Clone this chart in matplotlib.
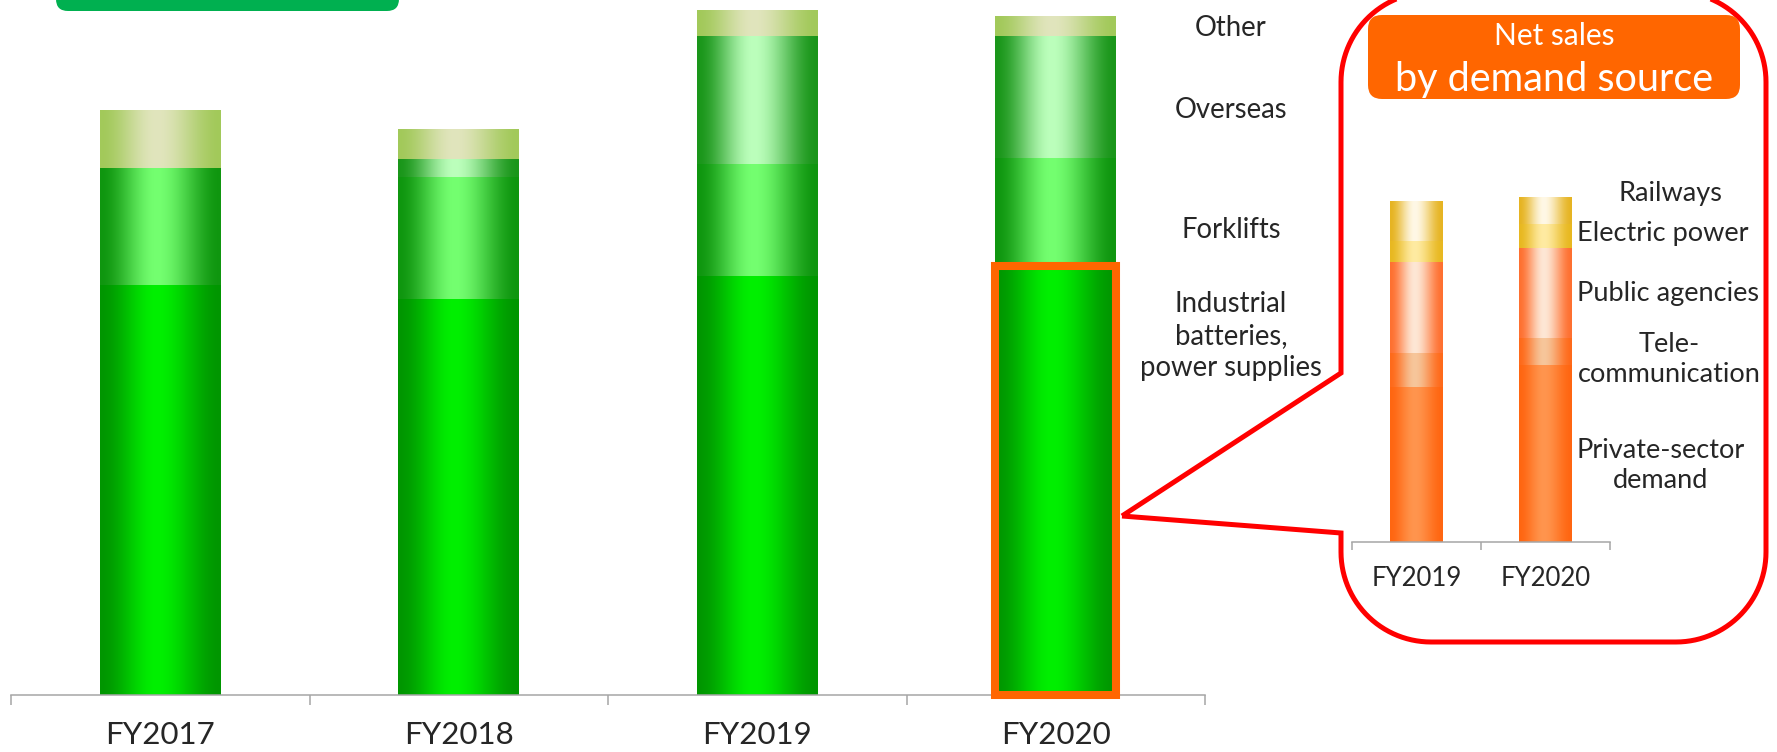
import matplotlib
matplotlib.use('Agg')
import matplotlib.pyplot as plt
import numpy as np
from matplotlib.patches import FancyBboxPatch, Rectangle, Polygon

plt.rcParams['font.family'] = ['Lato', 'DejaVu Sans']

# segment net sales (stacked), FY2017-FY2020
years = ['FY2017', 'FY2018', 'FY2019', 'FY2020']
industrial = [60.0, 57.9, 61.3, 62.7]
forklifts = [17.0, 17.8, 16.4, 15.8]
overseas = [0.0, 2.6, 18.7, 17.8]
other = [8.5, 4.4, 3.7, 2.9]

# industrial batteries & power supplies by demand source
demand_years = ['FY2019', 'FY2020']
private_sector = [28.1, 32.1]
telecom = [6.2, 4.9]
public_agencies = [16.5, 16.3]
electric_power = [3.8, 4.3]
railways = [7.1, 4.9]

W, H = 1777, 752
TEXT = '#262626'
AXIS_GREY = '#A6A6A6'

fig = plt.figure(figsize=(W / 100, H / 100), dpi=100)


def px_axes(x0, y0, x1, y1, **kw):
    # axes placed by pixel box (y measured from the top)
    return fig.add_axes([x0 / W, 1 - y1 / H, (x1 - x0) / W, (y1 - y0) / H], **kw)


def hexrgb(c):
    return np.array(matplotlib.colors.to_rgb(c))


def shade(ax, bar, edge, mid, peak=0.47):
    # horizontal "cylinder" gradient clipped to the bar
    x = np.linspace(0, 1, 256)
    t = np.interp(x, [0, peak, 1], [0, 1, 0])
    w = t * t * (3 - 2 * t)
    e, m = hexrgb(edge), hexrgb(mid)
    img = (e + (m - e) * w[:, None])[None, :, :]
    x0, y0 = bar.get_x(), bar.get_y()
    im = ax.imshow(img, extent=(x0, x0 + bar.get_width(), y0, y0 + bar.get_height()),
                   aspect='auto', interpolation='bilinear', origin='lower', zorder=2)
    im.set_clip_path(bar)


def stacked(ax, cats, series, width):
    x = np.arange(len(cats))
    bottom = np.zeros(len(cats))
    out = []
    for vals, edge, mid in series:
        vals = np.asarray(vals, dtype=float)
        bars = ax.bar(x, vals, width, bottom=bottom, color=edge, linewidth=0, zorder=1)
        for b, v in zip(bars, vals):
            if v > 0:
                shade(ax, b, edge, mid)
        out.append(bars)
        bottom += vals
    return out


# overlay in pixel coordinates for boxes, callout and labels
deco = fig.add_axes([0, 0, 1, 1])
deco.set_xlim(0, W)
deco.set_ylim(H, 0)
deco.axis('off')

# green heading box (cut by the top edge)
deco.add_patch(FancyBboxPatch((56, -40), 343, 51, boxstyle='round,pad=0,rounding_size=12',
                              fc='#00B050', ec='none'))

# red callout around the demand-source chart
L, R, T, B, r = 1341, 1766, -8, 642, 90


def arc(cx, cy, a0, a1):
    a = np.radians(np.linspace(a0, a1, 30))
    return np.column_stack([cx + r * np.cos(a), cy + r * np.sin(a)])


tip = (1122, 516)
outline = np.vstack([
    [tip, (L, 373)],
    arc(L + r, T + r, 180, 270),
    arc(R - r, T + r, 270, 360),
    arc(R - r, B - r, 0, 90),
    arc(L + r, B - r, 90, 180),
    [(L, 533)],
])
deco.add_patch(Polygon(outline, closed=True, fill=False, ec='#FF0000', lw=3.6, joinstyle='miter'))

# orange heading of the inset
deco.add_patch(FancyBboxPatch((1368, 15), 372, 84, boxstyle='round,pad=0,rounding_size=14',
                              fc='#FF6600', ec='none'))
deco.text(1554, 36, 'Net sales', color='white', fontsize=21.5, ha='center', va='center')
deco.text(1554, 79, 'by demand source', color='white', fontsize=28.5, ha='center', va='center')

# segment labels
seg_labels = [
    ('Other', 28),
    ('Overseas', 110),
    ('Forklifts', 230),
    ('Industrial\nbatteries,\npower supplies', 336),
]
for txt, y in seg_labels:
    deco.text(1231, y, txt, color=TEXT, fontsize=19.8, ha='center', va='center',
              multialignment='center', linespacing=1.27)

demand_labels = [
    ('Railways', 1670, 193),
    ('Electric power', 1663, 234),
    ('Public agencies', 1668, 293),
    ('Tele-\ncommunication', 1669, 359),
    ('Private-sector\ndemand', 1661, 465),
]
for txt, x, y in demand_labels:
    deco.text(x, y, txt, color=TEXT, fontsize=19.5, ha='center', va='center',
              multialignment='center', linespacing=1.25)

# main stacked bars
ax = px_axes(11, 0, 1205, 695)
ax.patch.set_alpha(0)
main = stacked(ax, years, [
    (industrial, '#009600', '#00F000'),
    (forklifts, '#0F960F', '#74FF70'),
    (overseas, '#1A961A', '#BCFFBC'),
    (other, '#A2C95A', '#E1E5BD'),
], width=0.405)

# highlight FY2020 industrial batteries bar
hb = main[0][3]
ax.add_patch(Rectangle((hb.get_x(), hb.get_y()), hb.get_width(), hb.get_height(),
                       fill=False, ec='#FF6600', lw=5.8, zorder=4, clip_on=False))

ax.set_xlim(-0.5, len(years) - 0.5)
ax.set_ylim(0, 695 / 6.84)
for s in ['top', 'right', 'left']:
    ax.spines[s].set_visible(False)
ax.spines['bottom'].set_color(AXIS_GREY)
ax.spines['bottom'].set_linewidth(1.1)
ax.set_yticks([])
ax.set_xticks(np.arange(-0.5, len(years), 1))
ax.set_xticklabels([])
ax.set_xticks(np.arange(len(years)), minor=True)
ax.set_xticklabels(years, minor=True)
ax.tick_params(axis='x', which='major', length=7.5, width=1.1, color=AXIS_GREY)
ax.tick_params(axis='x', which='minor', length=0, pad=19, labelsize=22.5, labelcolor=TEXT)

# inset: demand source breakdown
ins = px_axes(1352, 150, 1610, 542)
ins.patch.set_alpha(0)
stacked(ins, demand_years, [
    (private_sector, '#FF6611', '#FF954E'),
    (telecom, '#FF6A1A', '#F6C69B'),
    (public_agencies, '#FF7030', '#FDE7D5'),
    (electric_power, '#E8B820', '#FFEBA2'),
    (railways, '#E6B422', '#FFF8E6'),
], width=0.41)
ins.set_xlim(-0.5, len(demand_years) - 0.5)
ins.set_ylim(0, 392 / 5.52)
for s in ['top', 'right', 'left']:
    ins.spines[s].set_visible(False)
ins.spines['bottom'].set_color(AXIS_GREY)
ins.spines['bottom'].set_linewidth(1.1)
ins.set_yticks([])
ins.set_xticks(np.arange(-0.5, len(demand_years), 1))
ins.set_xticklabels([])
ins.set_xticks(np.arange(len(demand_years)), minor=True)
ins.set_xticklabels(demand_years, minor=True)
ins.tick_params(axis='x', which='major', length=6, width=1.1, color=AXIS_GREY)
ins.tick_params(axis='x', which='minor', length=0, pad=17, labelsize=18.5, labelcolor=TEXT)

fig.savefig('out.png', dpi=100)
